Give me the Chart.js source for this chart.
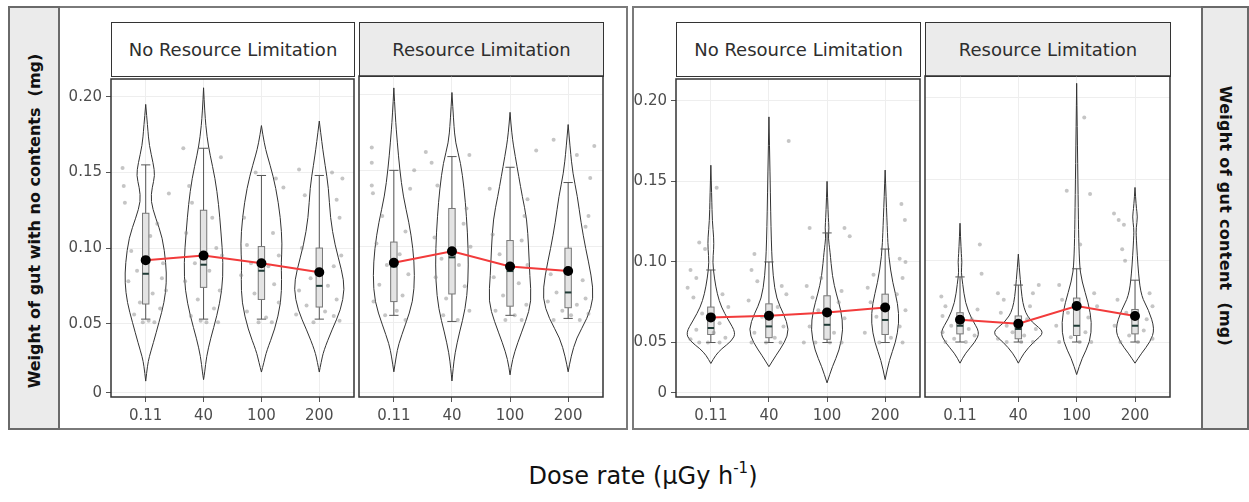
<!DOCTYPE html>
<html>
<head>
<meta charset="utf-8">
<script src="https://cdn.jsdelivr.net/npm/chart.js@4.4.0/dist/chart.umd.min.js"></script>
<style>
body{margin:0;background:#fff;width:1249px;height:502px;position:relative;overflow:hidden;font-family:"DejaVu Sans",sans-serif;}
.abs{position:absolute;box-sizing:border-box;}
.outer{border:2px solid #7a7a7a;}
.strip{background:#ebebeb;border:2px solid #6a6a6a;}
.head{border:1.5px solid #333;display:flex;align-items:center;justify-content:center;font-size:18px;color:#2e2e2e;}
.vlab{position:absolute;font-weight:bold;font-size:16px;color:#111;white-space:nowrap;}
canvas{position:absolute;}
</style>
</head>
<body>

<!-- frames -->
<div class="abs outer" style="left:8px;top:6px;width:620px;height:424px;"></div>
<div class="abs strip" style="left:8px;top:6px;width:52px;height:424px;"></div>
<div class="abs outer" style="left:632px;top:6px;width:617px;height:424px;"></div>
<div class="abs strip" style="left:1201px;top:6px;width:48px;height:424px;"></div>

<div class="vlab" style="left:34px;top:221px;transform:translate(-50%,-50%) rotate(-90deg);">Weight of gut with no contents&nbsp; (mg)</div>
<div class="vlab" style="left:1225px;top:216px;letter-spacing:0.3px;transform:translate(-50%,-50%) rotate(90deg);">Weight of gut content&nbsp; (mg)</div>

<!-- strip headers -->
<div class="abs head" style="left:111px;top:22px;width:244px;height:55px;background:#fff;">No Resource Limitation</div>
<div class="abs head" style="left:359px;top:22px;width:245px;height:55px;background:#ebebeb;">Resource Limitation</div>
<div class="abs head" style="left:676px;top:22px;width:245px;height:55px;background:#fff;">No Resource Limitation</div>
<div class="abs head" style="left:925px;top:22px;width:246px;height:55px;background:#ebebeb;">Resource Limitation</div>

<canvas id="p1" width="299" height="365" style="left:61px;top:66px;"></canvas>
<canvas id="p2" width="256" height="365" style="left:353px;top:66px;"></canvas>
<canvas id="p3" width="300" height="365" style="left:626px;top:66px;"></canvas>
<canvas id="p4" width="257" height="365" style="left:919px;top:66px;"></canvas>

<div class="abs" style="left:643px;top:461px;transform:translateX(-50%);font-size:24px;color:#111;white-space:nowrap;">Dose rate (µGy h<sup style="font-size:15px;position:relative;top:-2px;">-1</sup>)</div>

<script>
/* =========================
   DATA
========================= */
const doseLabels = ['0.11', '40', '100', '200'];

// y axis ticks (left pair / right pair), as printed on the figure
const leftTickValues  = [0.0042, 0.05, 0.10, 0.15, 0.20];
const rightTickValues = [0.0187, 0.05, 0.10, 0.15, 0.20];
const tickLabels = ['0', '0.05', '0.10', '0.15', '0.20'];

// group means (black dots, red line)
const meansEmptyNRL   = [0.092, 0.095, 0.090, 0.084];
const meansEmptyRL    = [0.0895, 0.097, 0.087, 0.084];
const meansContentNRL = [0.0656, 0.0666, 0.0686, 0.0717];
const meansContentRL  = [0.0637, 0.0612, 0.0721, 0.066];

// boxplots: [q1, median, q3, whisker low, whisker high]
const boxEmptyNRL = [
  [0.063, 0.083, 0.123, 0.053, 0.155],
  [0.074, 0.089, 0.125, 0.053, 0.166],
  [0.066, 0.085, 0.101, 0.053, 0.148],
  [0.061, 0.075, 0.100, 0.053, 0.148]
];
const boxEmptyRL = [
  [0.064, 0.087, 0.103, 0.055, 0.150],
  [0.069, 0.093, 0.125, 0.051, 0.159],
  [0.061, 0.084, 0.104, 0.055, 0.152],
  [0.060, 0.070, 0.099, 0.053, 0.142]
];
const boxContentNRL = [
  [0.055, 0.059, 0.072, 0.050, 0.095],
  [0.053, 0.060, 0.074, 0.050, 0.100],
  [0.052, 0.061, 0.079, 0.050, 0.118],
  [0.055, 0.064, 0.080, 0.050, 0.108]
];
const boxContentRL = [
  [0.055, 0.060, 0.068, 0.050, 0.090],
  [0.052, 0.058, 0.066, 0.050, 0.085],
  [0.054, 0.060, 0.077, 0.050, 0.095],
  [0.055, 0.060, 0.070, 0.050, 0.088]
];

// violin outlines: [value, half width in category units], top tip to bottom tip
const violinEmptyNRL = [
  [[0.195,0],[0.179,0.035],[0.168,0.06],[0.156,0.13],[0.148,0.16],[0.140,0.11],[0.131,0.086],[0.120,0.17],[0.107,0.29],[0.090,0.35],[0.077,0.36],[0.064,0.32],[0.051,0.23],[0.037,0.13],[0.028,0.06],[0.022,0.03],[0.012,0]],
  [[0.206,0],[0.189,0.02],[0.173,0.06],[0.162,0.11],[0.146,0.20],[0.129,0.26],[0.111,0.30],[0.090,0.34],[0.072,0.32],[0.055,0.23],[0.040,0.12],[0.028,0.05],[0.018,0.02],[0.013,0]],
  [[0.181,0],[0.168,0.05],[0.155,0.15],[0.140,0.25],[0.120,0.33],[0.102,0.36],[0.090,0.34],[0.080,0.35],[0.064,0.34],[0.046,0.23],[0.032,0.09],[0.024,0.04],[0.018,0]],
  [[0.184,0],[0.168,0.05],[0.155,0.10],[0.140,0.16],[0.120,0.19],[0.102,0.27],[0.085,0.39],[0.073,0.44],[0.059,0.37],[0.046,0.22],[0.032,0.075],[0.024,0.03],[0.018,0]]
];
const violinEmptyRL = [
  [[0.204,0],[0.185,0.025],[0.168,0.06],[0.151,0.10],[0.133,0.16],[0.116,0.26],[0.099,0.33],[0.081,0.36],[0.064,0.33],[0.049,0.20],[0.036,0.08],[0.028,0.04],[0.018,0]],
  [[0.201,0],[0.181,0.03],[0.168,0.06],[0.155,0.15],[0.138,0.21],[0.120,0.25],[0.099,0.28],[0.077,0.28],[0.059,0.23],[0.044,0.13],[0.030,0.05],[0.020,0.02],[0.012,0]],
  [[0.188,0],[0.173,0.03],[0.159,0.09],[0.146,0.15],[0.133,0.21],[0.118,0.29],[0.099,0.32],[0.081,0.34],[0.064,0.37],[0.051,0.27],[0.037,0.13],[0.026,0.04],[0.016,0]],
  [[0.180,0],[0.164,0.035],[0.148,0.08],[0.133,0.16],[0.116,0.22],[0.099,0.30],[0.081,0.40],[0.066,0.44],[0.053,0.33],[0.040,0.14],[0.028,0.05],[0.018,0]]
];
const violinContentNRL = [
  [[0.160,0],[0.140,0.015],[0.125,0.025],[0.115,0.05],[0.108,0.05],[0.100,0.03],[0.090,0.06],[0.080,0.11],[0.072,0.18],[0.064,0.30],[0.056,0.43],[0.051,0.36],[0.046,0.18],[0.042,0.08],[0.037,0]],
  [[0.190,0],[0.152,0.02],[0.111,0.04],[0.091,0.07],[0.077,0.13],[0.068,0.25],[0.058,0.35],[0.050,0.27],[0.042,0.12],[0.035,0]],
  [[0.150,0],[0.128,0.02],[0.121,0.035],[0.115,0.02],[0.107,0.05],[0.091,0.09],[0.080,0.16],[0.070,0.24],[0.058,0.28],[0.045,0.21],[0.035,0.09],[0.025,0]],
  [[0.157,0],[0.121,0.035],[0.103,0.06],[0.087,0.13],[0.074,0.22],[0.062,0.24],[0.050,0.18],[0.039,0.07],[0.027,0]]
];
const violinContentRL = [
  [[0.123,0],[0.105,0.02],[0.099,0.035],[0.093,0.02],[0.086,0.045],[0.074,0.09],[0.064,0.20],[0.056,0.34],[0.050,0.26],[0.043,0.09],[0.037,0]],
  [[0.104,0],[0.086,0.035],[0.070,0.09],[0.062,0.23],[0.056,0.46],[0.050,0.26],[0.043,0.09],[0.037,0]],
  [[0.209,0],[0.152,0.02],[0.099,0.04],[0.087,0.09],[0.074,0.20],[0.062,0.26],[0.050,0.23],[0.040,0.09],[0.030,0]],
  [[0.145,0],[0.133,0.02],[0.127,0.045],[0.120,0.02],[0.115,0.02],[0.091,0.06],[0.078,0.11],[0.070,0.23],[0.058,0.34],[0.050,0.26],[0.043,0.11],[0.037,0]]
];

// jittered raw points: [category, jitter, value]
const jitterEmptyNRL = [
  [0,-0.40,0.153],[0,-0.38,0.141],[0,-0.36,0.130],[0,0.40,0.136],[0,0.20,0.116],[0,0.08,0.108],[0,-0.25,0.098],[0,-0.15,0.085],[0,0.30,0.090],[0,-0.30,0.078],[0,0.35,0.072],[0,0.12,0.070],[0,-0.10,0.064],[0,0.25,0.060],[0,-0.20,0.056],[0,0.05,0.052],[0,-0.05,0.051],[0,0.15,0.051],[0,0.28,0.080],
  [1,-0.35,0.166],[1,0.30,0.160],[1,-0.25,0.141],[1,-0.20,0.130],[1,0.15,0.120],[1,-0.30,0.110],[1,0.32,0.095],[1,0.22,0.100],[1,-0.15,0.090],[1,0.10,0.085],[1,-0.32,0.078],[1,0.28,0.072],[1,-0.10,0.066],[1,0.18,0.060],[1,-0.22,0.055],[1,0.05,0.051],[1,0.25,0.051],[1,-0.05,0.052],
  [2,-0.30,0.120],[2,0.25,0.146],[2,-0.10,0.150],[2,0.38,0.140],[2,0.20,0.110],[2,-0.25,0.102],[2,0.30,0.095],[2,-0.18,0.090],[2,0.12,0.088],[2,-0.35,0.082],[2,0.22,0.076],[2,-0.12,0.070],[2,0.30,0.064],[2,-0.25,0.058],[2,0.08,0.054],[2,-0.05,0.051],[2,0.18,0.051],
  [3,-0.35,0.152],[3,0.22,0.150],[3,0.40,0.146],[3,-0.25,0.135],[3,0.30,0.132],[3,0.35,0.120],[3,-0.30,0.100],[3,0.38,0.095],[3,0.25,0.088],[3,-0.15,0.080],[3,0.15,0.075],[3,-0.35,0.072],[3,0.30,0.066],[3,-0.22,0.062],[3,0.10,0.058],[3,0.25,0.055],[3,-0.10,0.051],[3,0.35,0.052],[3,-0.40,0.056]
];
const jitterEmptyRL = [
  [0,-0.38,0.165],[0,-0.38,0.155],[0,-0.38,0.140],[0,-0.36,0.135],[0,0.35,0.150],[0,0.28,0.138],[0,-0.20,0.120],[0,0.20,0.110],[0,-0.30,0.102],[0,0.10,0.095],[0,-0.12,0.088],[0,0.25,0.082],[0,-0.25,0.075],[0,0.15,0.068],[0,-0.35,0.064],[0,0.05,0.058],[0,-0.15,0.055],[0,0.20,0.052],
  [1,-0.45,0.162],[1,-0.35,0.155],[1,0.30,0.160],[1,-0.25,0.140],[1,0.25,0.125],[1,0.20,0.115],[1,-0.30,0.106],[1,0.32,0.100],[1,-0.18,0.092],[1,0.12,0.088],[1,-0.28,0.080],[1,0.22,0.074],[1,-0.10,0.066],[1,0.30,0.058],[1,-0.15,0.055],[1,0.10,0.052],
  [2,0.45,0.163],[2,-0.35,0.138],[2,0.30,0.131],[2,0.25,0.120],[2,-0.30,0.108],[2,0.20,0.104],[2,-0.18,0.095],[2,0.30,0.088],[2,-0.28,0.080],[2,0.15,0.076],[2,-0.12,0.068],[2,0.28,0.062],[2,-0.25,0.058],[2,0.08,0.055],[2,-0.08,0.052],[2,0.20,0.052],
  [3,-0.25,0.170],[3,0.45,0.166],[3,0.15,0.160],[3,0.38,0.145],[3,0.35,0.120],[3,0.30,0.113],[3,-0.30,0.082],[3,0.25,0.078],[3,-0.20,0.070],[3,0.30,0.066],[3,-0.35,0.064],[3,0.15,0.062],[3,-0.10,0.058],[3,0.35,0.056],[3,0.05,0.055],[3,-0.25,0.052],[3,0.20,0.052]
];
const jitterContentNRL = [
  [0,0.10,0.146],[0,-0.20,0.112],[0,-0.10,0.108],[0,-0.35,0.095],[0,-0.25,0.090],[0,-0.40,0.084],[0,0.20,0.080],[0,-0.30,0.078],[0,0.30,0.072],[0,-0.15,0.068],[0,0.15,0.062],[0,-0.25,0.058],[0,0.05,0.056],[0,0.25,0.053],[0,-0.35,0.052],[0,-0.05,0.050],[0,0.15,0.050],[0,-0.20,0.050],
  [1,0.34,0.175],[1,-0.25,0.105],[1,-0.30,0.095],[1,-0.20,0.088],[1,0.22,0.085],[1,0.30,0.080],[1,-0.35,0.076],[1,0.15,0.072],[1,-0.12,0.066],[1,0.25,0.060],[1,-0.25,0.056],[1,0.10,0.053],[1,-0.05,0.050],[1,0.20,0.050],[1,-0.30,0.050],
  [2,-0.30,0.121],[2,0.30,0.121],[2,0.39,0.116],[2,-0.10,0.090],[2,-0.35,0.085],[2,0.25,0.082],[2,-0.25,0.078],[2,0.20,0.075],[2,-0.15,0.070],[2,0.30,0.065],[2,-0.30,0.060],[2,0.12,0.056],[2,-0.40,0.050],[2,-0.20,0.050],[2,0.05,0.050],[2,0.25,0.050],
  [3,0.28,0.136],[3,0.34,0.126],[3,0.25,0.102],[3,0.35,0.100],[3,-0.20,0.092],[3,0.30,0.090],[3,-0.30,0.084],[3,0.20,0.080],[3,-0.25,0.075],[3,0.35,0.070],[3,-0.15,0.066],[3,0.25,0.060],[3,-0.35,0.056],[3,0.10,0.053],[3,-0.10,0.050],[3,0.30,0.050]
];
const jitterContentRL = [
  [0,0.34,0.110],[0,0.37,0.092],[0,-0.32,0.078],[0,-0.25,0.072],[0,0.30,0.070],[0,-0.30,0.066],[0,0.20,0.064],[0,-0.15,0.060],[0,0.15,0.058],[0,-0.30,0.056],[0,0.25,0.054],[0,-0.10,0.052],[0,0.10,0.050],[0,-0.25,0.050],
  [1,-0.35,0.080],[1,0.35,0.085],[1,0.25,0.080],[1,-0.25,0.076],[1,0.20,0.072],[1,-0.30,0.068],[1,0.15,0.064],[1,-0.20,0.060],[1,0.30,0.058],[1,-0.10,0.056],[1,0.10,0.054],[1,-0.35,0.052],[1,0.25,0.050],[1,0.05,0.050],[1,-0.20,0.050],
  [2,-0.17,0.143],[2,0.23,0.141],[2,0.13,0.188],[2,0.06,0.110],[2,-0.30,0.085],[2,0.30,0.080],[2,-0.25,0.076],[2,0.35,0.072],[2,-0.15,0.068],[2,0.20,0.065],[2,-0.35,0.060],[2,0.15,0.056],[2,-0.10,0.053],[2,0.25,0.050],[2,-0.30,0.050],[2,0.05,0.050],
  [3,-0.36,0.129],[3,-0.28,0.125],[3,-0.19,0.122],[3,-0.22,0.107],[3,-0.17,0.100],[3,0.25,0.080],[3,-0.30,0.076],[3,0.30,0.072],[3,-0.15,0.068],[3,0.20,0.064],[3,-0.35,0.060],[3,0.15,0.057],[3,-0.10,0.054],[3,0.30,0.052],[3,0.05,0.050],[3,-0.25,0.050]
];

/* =========================
   VIOLIN + BOX PLUGIN
========================= */
function smoothSide(ctx, pts){
    ctx.moveTo(pts[0][0], pts[0][1]);
    for(let i = 1; i < pts.length - 1; i++){
        const mx = (pts[i][0] + pts[i+1][0]) / 2;
        const my = (pts[i][1] + pts[i+1][1]) / 2;
        ctx.quadraticCurveTo(pts[i][0], pts[i][1], mx, my);
    }
    const last = pts[pts.length - 1];
    ctx.lineTo(last[0], last[1]);
}

const violinPlugin = {
    id: 'violins',
    beforeDatasetsDraw(chart, args, opts){
        const {ctx, scales: {x, y}} = chart;
        ctx.save();

        // violins
        ctx.strokeStyle = '#333';
        ctx.lineWidth = 1;
        opts.shapes.forEach((shape, c) => {
            [1, -1].forEach(side => {
                const pts = shape.map(p => [x.getPixelForValue(c + side * p[1]), y.getPixelForValue(p[0])]);
                ctx.beginPath();
                smoothSide(ctx, pts);
                ctx.stroke();
            });
        });

        // boxplots
        opts.boxes.forEach((b, c) => {
            const [q1, med, q3, lo, hi] = b;
            const xl = x.getPixelForValue(c - 0.055), xr = x.getPixelForValue(c + 0.055);
            const cl = x.getPixelForValue(c - 0.08), cr = x.getPixelForValue(c + 0.08);
            const xc = x.getPixelForValue(c);
            ctx.strokeStyle = '#555';
            ctx.lineWidth = 1;
            ctx.beginPath();
            ctx.moveTo(xc, y.getPixelForValue(hi)); ctx.lineTo(xc, y.getPixelForValue(q3));
            ctx.moveTo(xc, y.getPixelForValue(q1)); ctx.lineTo(xc, y.getPixelForValue(lo));
            ctx.moveTo(cl, y.getPixelForValue(hi)); ctx.lineTo(cr, y.getPixelForValue(hi));
            ctx.moveTo(cl, y.getPixelForValue(lo)); ctx.lineTo(cr, y.getPixelForValue(lo));
            ctx.stroke();

            const top = y.getPixelForValue(q3), bot = y.getPixelForValue(q1);
            ctx.fillStyle = 'rgba(225,225,225,0.9)';
            ctx.fillRect(xl, top, xr - xl, bot - top);
            ctx.strokeStyle = '#777';
            ctx.strokeRect(xl, top, xr - xl, bot - top);

            ctx.strokeStyle = '#1f3a35';
            ctx.lineWidth = 2;
            ctx.beginPath();
            ctx.moveTo(xl, y.getPixelForValue(med)); ctx.lineTo(xr, y.getPixelForValue(med));
            ctx.stroke();
        });
        ctx.restore();
    },
    afterDatasetsDraw(chart){
        const {ctx, chartArea: a} = chart;
        ctx.save();
        ctx.strokeStyle = '#333';
        ctx.lineWidth = 1.5;
        ctx.strokeRect(a.left, a.top, a.right - a.left, a.bottom - a.top);
        ctx.restore();
    }
};

/* =========================
   PANELS
========================= */
Chart.defaults.font.family = 'DejaVu Sans';

function makePanel(id, p){
    return new Chart(document.getElementById(id), {
        type: 'scatter',
        data: {
            datasets: [{
                type: 'line',
                data: p.means.map((m, i) => ({x: i, y: m})),
                borderColor: '#f23b3b',
                borderWidth: 2,
                pointRadius: 4,
                pointBackgroundColor: '#000',
                pointBorderColor: '#000',
                tension: 0
            }, {
                type: 'scatter',
                data: p.jitter.map(j => ({x: j[0] + j[1], y: j[2]})),
                pointRadius: 2,
                backgroundColor: 'rgba(140,140,140,0.5)',
                borderWidth: 0
            }]
        },
        options: {
            responsive: false,
            animation: false,
            events: [],
            layout: {padding: {left: 6, right: 6, top: 10, bottom: 0}},
            plugins: {
                legend: {display: false},
                tooltip: {enabled: false},
                violins: {shapes: p.shapes, boxes: p.boxes}
            },
            scales: {
                x: {
                    type: 'linear', min: -0.6, max: 3.6,
                    afterBuildTicks: s => { s.ticks = doseLabels.map((l, i) => ({value: i})); },
                    afterFit: s => { s.height = 34; },
                    ticks: {callback: (v, i) => doseLabels[i], font: {size: 15}, color: '#4d4d4d', padding: 5, maxRotation: 0, autoSkip: false},
                    grid: {color: '#eeeeee', tickColor: '#555', tickLength: 5},
                    border: {display: false}
                },
                y: {
                    min: p.yMin, max: p.yMax,
                    afterBuildTicks: s => { s.ticks = p.tickValues.map(v => ({value: v})); },
                    afterFit: s => { s.width = p.showY ? 44 : 0; },
                    ticks: {display: p.showY, callback: (v, i) => tickLabels[i], font: {size: 15}, color: '#4d4d4d', padding: 4, autoSkip: false},
                    grid: {color: '#eeeeee', tickColor: '#555', tickLength: 5, drawTicks: p.showY},
                    border: {display: false}
                }
            }
        },
        plugins: [violinPlugin]
    });
}

const leftRange  = {yMin: 0.0015, yMax: 0.2118, tickValues: leftTickValues};
const rightRange = {yMin: 0.0162, yMax: 0.2135, tickValues: rightTickValues};

makePanel('p1', {...leftRange, showY: true,  means: meansEmptyNRL, boxes: boxEmptyNRL, shapes: violinEmptyNRL, jitter: jitterEmptyNRL});
makePanel('p2', {...leftRange, showY: false, means: meansEmptyRL,  boxes: boxEmptyRL,  shapes: violinEmptyRL,  jitter: jitterEmptyRL});
makePanel('p3', {...rightRange, showY: true,  means: meansContentNRL, boxes: boxContentNRL, shapes: violinContentNRL, jitter: jitterContentNRL});
makePanel('p4', {...rightRange, showY: false, means: meansContentRL,  boxes: boxContentRL,  shapes: violinContentRL,  jitter: jitterContentRL});
</script>
</body>
</html>
